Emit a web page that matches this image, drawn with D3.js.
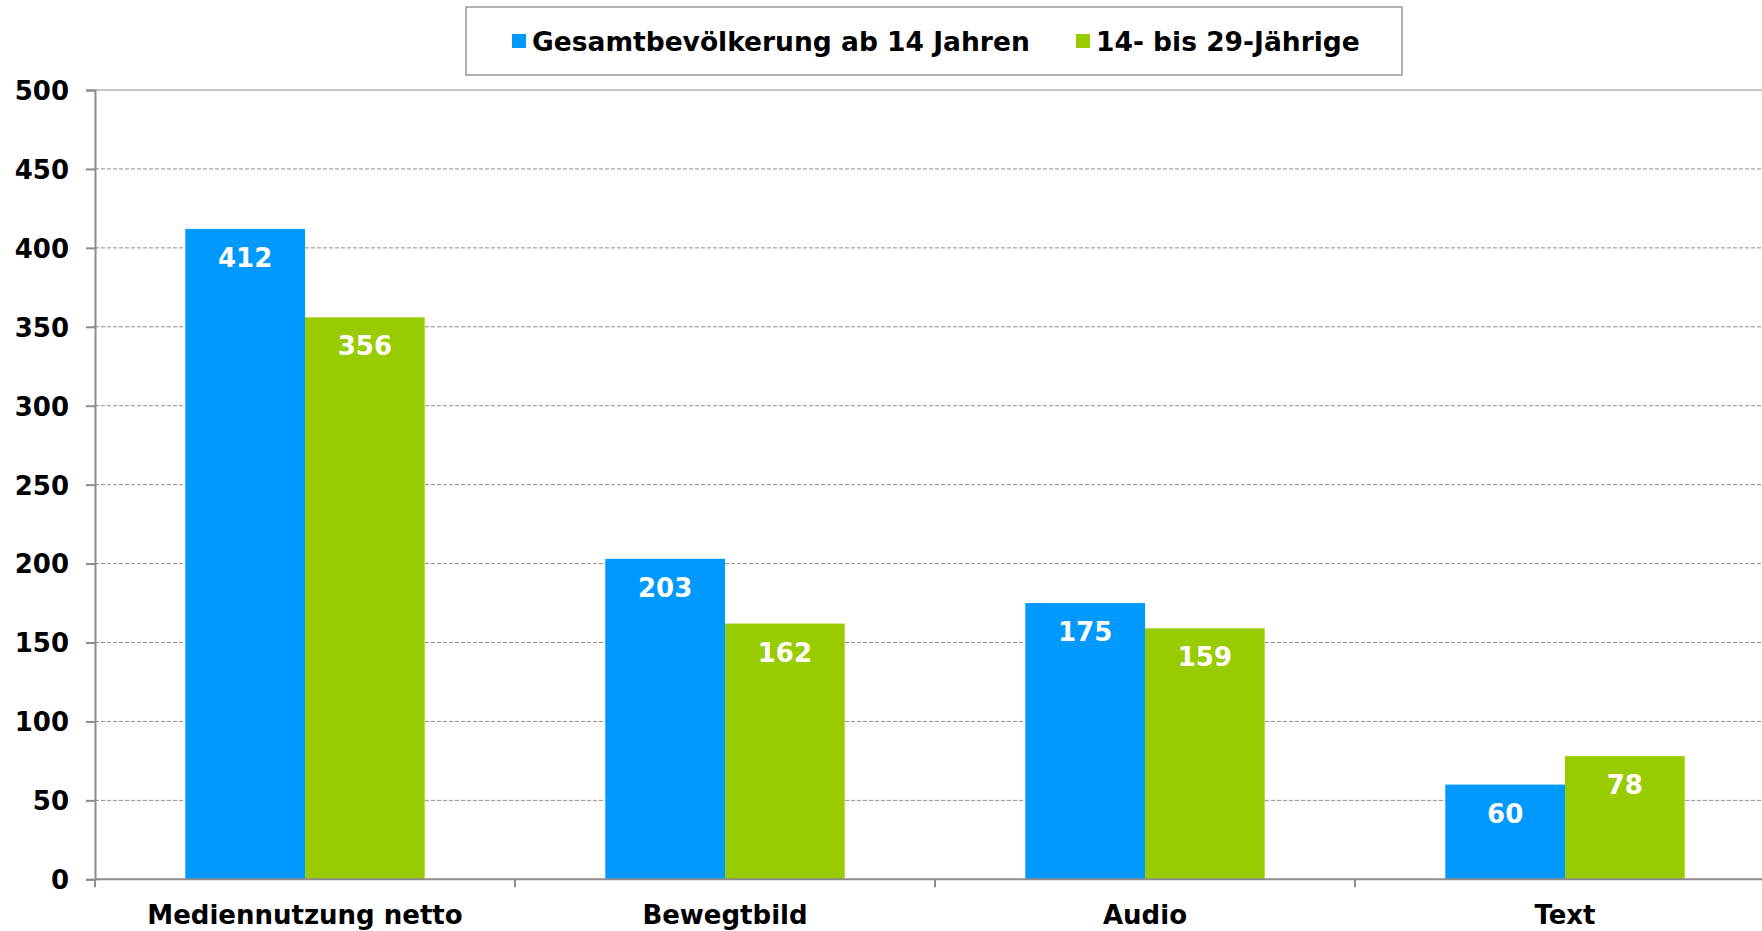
<!DOCTYPE html>
<html>
<head>
<meta charset="utf-8">
<script src="https://cdn.jsdelivr.net/npm/d3@7"></script>
<style>
  body { margin: 0; background: #fff; }
  text { font-family: "DejaVu Sans", Verdana, sans-serif; font-weight: bold; }
</style>
</head>
<body>
<svg id="chart" width="1762" height="931"></svg>
<script>
// data
const categories = ["Mediennutzung netto", "Bewegtbild", "Audio", "Text"]
const seriesNames = ["Gesamtbevölkerung ab 14 Jahren", "14- bis 29-Jährige"]
const gesamt = [412, 203, 175, 60]
const jung = [356, 162, 159, 78]
const yTicks = [0, 50, 100, 150, 200, 250, 300, 350, 400, 450, 500]

const colours = ["#0099FF", "#99CC00"]

const chartWidth = 1762
const plotLeft = 95
const plotTop = 90
const plotBottom = 879.3
const step = 420

const svg = d3.select('#chart')

const rows = categories.map((c, i) => ({cat: c, values: [gesamt[i], jung[i]]}))

// scales
const x = d3.scaleBand()
  .domain(categories)
  .range([plotLeft, plotLeft + step * categories.length])
  .paddingInner(0.43)
  .paddingOuter(0.215)

const xInner = d3.scaleBand()
  .domain([0, 1])
  .range([0, x.bandwidth()])

const y = d3.scaleLinear()
  .domain([0, 500])
  .range([plotBottom, plotTop])

// gridlines
svg.append('g').selectAll('line').data(yTicks.filter(d => d > 0))
  .join('line')
  .attr('x1', plotLeft).attr('x2', chartWidth)
  .attr('y1', d => y(d)).attr('y2', d => y(d))
  .attr('stroke', '#8c8c8c')
  .attr('stroke-width', 1)
  .attr('stroke-dasharray', d => d == 500 ? null : '4,2')

// bars
const groups = svg.append('g').selectAll('g').data(rows)
  .join('g')
  .attr('transform', d => `translate(${x(d.cat)},0)`)

groups.selectAll('rect').data(d => d.values)
  .join('rect')
  .attr('x', (d, i) => xInner(i))
  .attr('width', xInner.bandwidth())
  .attr('y', d => y(d))
  .attr('height', d => y(0) - y(d))
  .attr('fill', (d, i) => colours[i])

// value labels, white inside the top of the bar
groups.selectAll('text').data(d => d.values)
  .join('text')
  .attr('x', (d, i) => xInner(i) + xInner.bandwidth() / 2)
  .attr('y', d => y(d) + 38)
  .attr('text-anchor', 'middle')
  .attr('fill', '#fff')
  .attr('font-size', 26)
  .text(d => d)

// y axis
const yAxis = svg.append('g')
  .attr('transform', `translate(${plotLeft},0)`)
  .call(d3.axisLeft(y).tickValues(yTicks).tickSize(9).tickPadding(17))
yAxis.select('.domain').attr('stroke', '#8c8c8c').attr('stroke-width', 2)
yAxis.selectAll('.tick line').attr('stroke', '#8c8c8c').attr('stroke-width', 2)
yAxis.selectAll('.tick text')
  .attr('font-size', 26)
  .attr('fill', '#000')
  .attr('font-family', '"DejaVu Sans", Verdana, sans-serif')
  .attr('dy', '0.36em')

// x axis: line plus ticks at band boundaries
const xg = svg.append('g')
xg.append('line')
  .attr('x1', plotLeft).attr('x2', chartWidth)
  .attr('y1', y(0)).attr('y2', y(0))
  .attr('stroke', '#8c8c8c').attr('stroke-width', 2)
xg.selectAll('.xtick').data(d3.range(categories.length + 1))
  .join('line')
  .attr('class', 'xtick')
  .attr('x1', i => plotLeft + i * x.step()).attr('x2', i => plotLeft + i * x.step())
  .attr('y1', y(0)).attr('y2', y(0) + 8)
  .attr('stroke', '#8c8c8c').attr('stroke-width', 2)
xg.selectAll('text').data(categories)
  .join('text')
  .attr('x', d => x(d) + x.bandwidth() / 2)
  .attr('y', 924)
  .attr('text-anchor', 'middle')
  .attr('font-size', 26)
  .attr('fill', '#000')
  .text(d => d)

// legend
const legend = svg.append('g')
legend.append('rect')
  .attr('x', 466).attr('y', 7)
  .attr('width', 936).attr('height', 68)
  .attr('fill', '#fff')
  .attr('stroke', '#999').attr('stroke-width', 1.5)

const legendX = [512, 1076]
const items = legend.selectAll('g').data(seriesNames)
  .join('g')
  .attr('transform', (d, i) => `translate(${legendX[i]},0)`)
items.append('rect')
  .attr('x', 0).attr('y', 34)
  .attr('width', 14).attr('height', 14)
  .attr('fill', (d, i) => colours[i])
items.append('text')
  .attr('x', 20).attr('y', 51)
  .attr('font-size', 26.5)
  .attr('fill', '#000')
  .text(d => d)
</script>
</body>
</html>
